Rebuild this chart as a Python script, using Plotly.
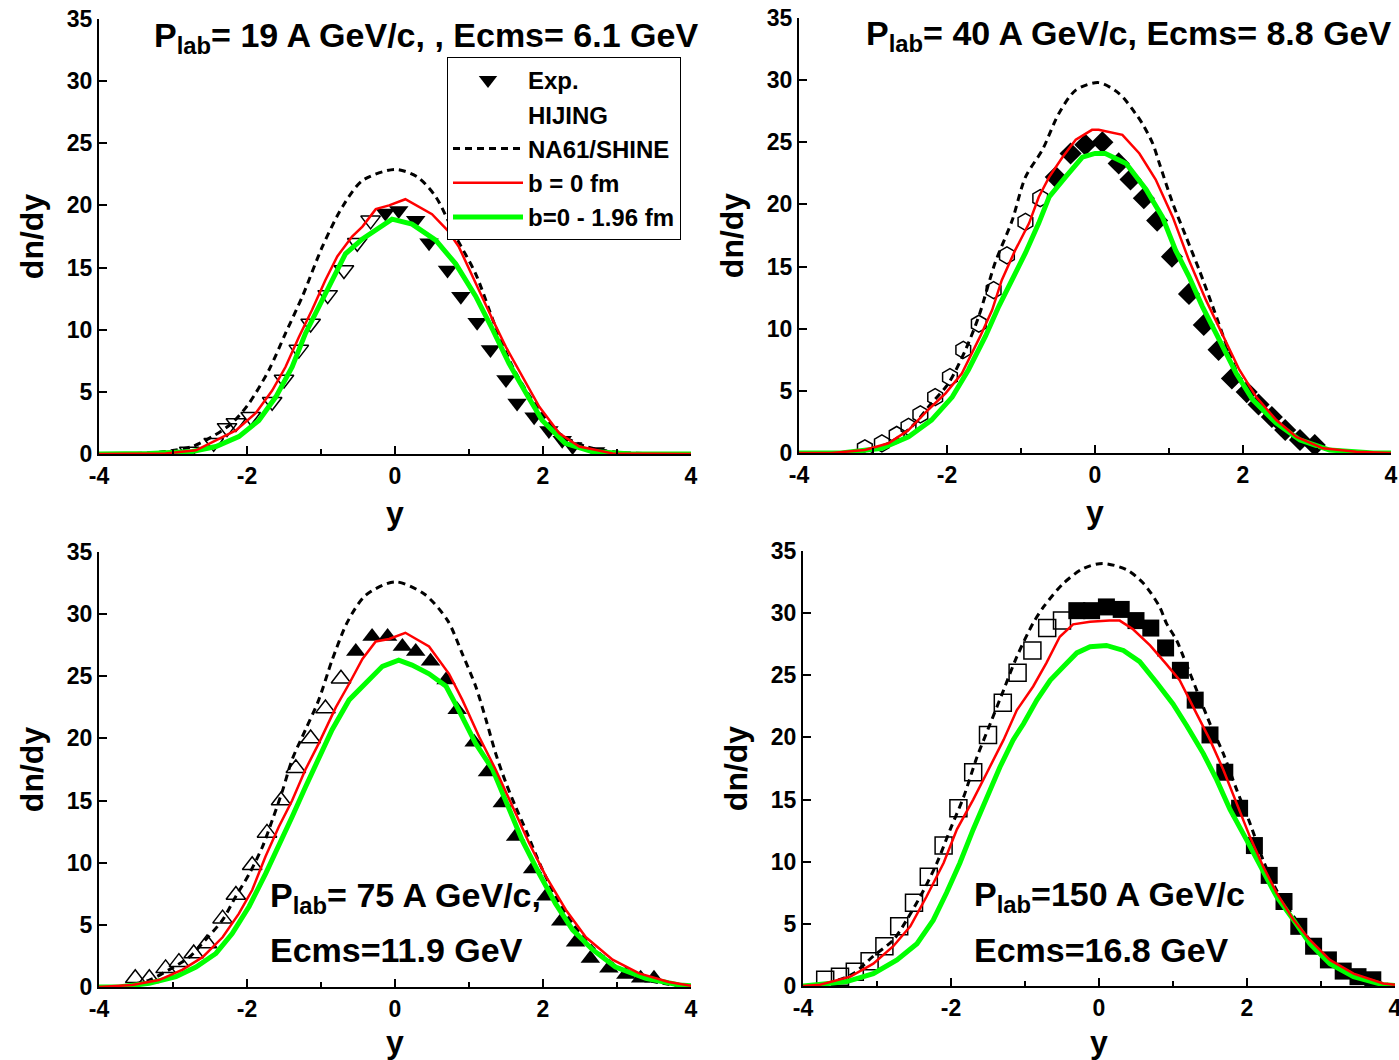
import plotly.graph_objects as go

W, H = 1399, 1060
FONT = "Liberation Sans, Arial, sans-serif"

# ---------------- Panel 1: 19 A GeV/c ----------------
p1_exp_x = [-0.13, 0.05, 0.28, 0.46, 0.71, 0.89, 1.11, 1.29, 1.50, 1.65, 1.88, 2.08, 2.26, 2.40, 2.71]
p1_exp_v = [19.4, 19.6, 18.8, 17.0, 14.8, 12.7, 10.6, 8.4, 6.0, 4.1, 3.0, 1.9, 1.1, 0.6, 0.2]
p1_ref_x = [-0.33, -0.51, -0.69, -0.91, -1.14, -1.30, -1.50, -1.66, -1.95, -2.15, -2.27, -2.45, -2.78]
p1_ref_v = [18.8, 17.0, 14.8, 12.8, 10.5, 8.4, 6.0, 4.2, 3.0, 2.5, 2.1, 0.9, 0.2]
p1_na61_x = [-4, -3.5, -3.1, -2.74, -2.47, -2.2, -1.97, -1.70, -1.48, -1.25, -0.98, -0.71, -0.44, 0, 0.3, 0.55, 0.82, 1.09, 1.36, 1.59, 1.86, 2.22, 2.58, 3.0, 3.5, 4]
p1_na61_v = [0, 0.05, 0.2, 0.6, 1.4, 2.5, 4.1, 6.8, 9.7, 12.7, 16.7, 19.9, 22.0, 22.9, 22.3, 20.7, 17.5, 14.5, 10.2, 7.0, 4.3, 1.66, 0.6, 0.15, 0.03, 0]
p1_b0_x = [-4, -3.1, -2.69, -2.42, -2.15, -1.88, -1.66, -1.48, -1.30, -1.12, -0.94, -0.78, -0.58, -0.44, -0.26, -0.08, 0.14, 0.50, 0.71, 0.86, 1.09, 1.32, 1.50, 1.72, 1.95, 2.22, 2.49, 2.94, 3.5, 4]
p1_b0_v = [0, 0.05, 0.3, 1.1, 1.9, 3.3, 5.1, 7.0, 9.4, 11.6, 14.0, 15.9, 17.5, 18.3, 19.7, 20.0, 20.5, 19.3, 18.0, 16.7, 13.7, 10.8, 8.6, 6.2, 3.8, 1.66, 0.6, 0.05, 0, 0]
p1_bc_x = [-4, -3.32, -2.74, -2.42, -2.11, -1.84, -1.61, -1.39, -1.21, -1.03, -0.85, -0.67, -0.44, -0.04, 0.23, 0.55, 0.82, 1.09, 1.32, 1.54, 1.77, 1.99, 2.30, 2.66, 3.2, 4]
p1_bc_v = [0, 0.05, 0.2, 0.6, 1.4, 2.7, 4.6, 7.0, 9.7, 11.9, 14.0, 16.1, 17.3, 18.9, 18.5, 17.2, 15.3, 12.7, 10.0, 7.3, 4.9, 2.7, 0.86, 0.2, 0, 0]

# ---------------- Panel 2: 40 A GeV/c ----------------
p2_exp_x = [-0.53, -0.33, -0.13, 0.10, 0.32, 0.48, 0.66, 0.84, 1.04, 1.27, 1.47, 1.67, 1.85, 2.05, 2.21, 2.39, 2.57, 2.77, 2.97]
p2_exp_v = [22.2, 24.1, 24.8, 25.0, 23.3, 22.0, 20.5, 18.7, 15.8, 12.8, 10.3, 8.3, 6.0, 4.9, 3.9, 2.9, 1.85, 1.05, 0.64]
p2_ref_x = [-0.74, -0.94, -1.19, -1.37, -1.57, -1.78, -1.96, -2.16, -2.36, -2.52, -2.68, -2.88, -3.11]
p2_ref_v = [20.5, 18.6, 15.9, 13.1, 10.4, 8.3, 6.1, 4.5, 3.1, 2.1, 1.45, 0.78, 0.38]
p2_na61_x = [-4, -3.16, -2.79, -2.48, -2.21, -1.98, -1.75, -1.57, -1.35, -1.12, -0.94, -0.71, -0.49, -0.26, 0.05, 0.33, 0.55, 0.64, 0.78, 0.87, 1.05, 1.23, 1.41, 1.59, 1.77, 1.95, 2.18, 2.45, 2.86, 3.35, 4]
p2_na61_v = [0, 0.1, 0.78, 2.1, 4.0, 5.6, 8.3, 11.0, 15.3, 18.7, 22.2, 24.4, 27.3, 29.2, 29.8, 28.9, 27.3, 26.5, 24.9, 23.3, 20.1, 17.4, 14.7, 11.8, 8.8, 6.1, 4.0, 2.1, 0.64, 0.1, 0]
p2_b0_x = [-4, -3.56, -3.11, -2.79, -2.52, -2.25, -2.02, -1.80, -1.55, -1.39, -1.26, -1.08, -0.89, -0.76, -0.62, -0.44, -0.26, -0.04, 0.05, 0.37, 0.60, 0.82, 1.05, 1.27, 1.50, 1.73, 1.95, 2.18, 2.45, 2.72, 3.08, 3.53, 4]
p2_b0_v = [0, 0, 0.24, 0.78, 1.85, 3.5, 4.8, 6.4, 9.4, 11.5, 13.9, 16.3, 18.5, 20.6, 22.2, 23.8, 25.2, 26.0, 26.0, 25.6, 24.1, 22.0, 19.0, 15.5, 12.3, 9.4, 6.7, 4.5, 2.65, 1.3, 0.38, 0.1, 0]
p2_bc_x = [-4, -3.43, -2.88, -2.52, -2.21, -1.93, -1.71, -1.48, -1.30, -1.12, -0.94, -0.76, -0.62, -0.40, -0.17, 0.0, 0.14, 0.42, 0.69, 0.91, 1.09, 1.27, 1.45, 1.68, 1.91, 2.13, 2.45, 2.77, 3.17, 3.76, 4]
p2_bc_v = [0, 0, 0.38, 1.3, 2.65, 4.5, 6.7, 9.4, 11.8, 13.9, 16.1, 18.5, 20.6, 22.2, 23.8, 24.1, 24.1, 23.3, 21.2, 19.0, 16.3, 14.2, 11.8, 9.1, 6.4, 4.3, 2.4, 1.05, 0.24, 0, 0]

# ---------------- Panel 3: 75 A GeV/c ----------------
p3_exp_x = [-0.53, -0.31, -0.10, 0.10, 0.28, 0.48, 0.69, 0.84, 1.07, 1.25, 1.45, 1.63, 1.86, 2.04, 2.24, 2.44, 2.64, 2.89, 3.12, 3.32, 3.50]
p3_exp_v = [27.0, 28.2, 28.2, 27.4, 27.0, 26.2, 24.7, 22.3, 19.7, 17.3, 14.8, 12.1, 9.5, 7.3, 5.3, 3.6, 2.3, 1.5, 1.0, 0.7, 0.7]
p3_ref_x = [-0.73, -0.94, -1.14, -1.34, -1.54, -1.73, -1.93, -2.15, -2.33, -2.54, -2.72, -2.92, -3.10, -3.32, -3.51]
p3_ref_v = [24.8, 22.4, 20.0, 17.6, 15.0, 12.4, 9.8, 7.4, 5.5, 3.5, 2.7, 2.0, 1.5, 0.7, 0.7]
p3_na61_x = [-4, -3.73, -3.32, -3.05, -2.78, -2.56, -2.33, -2.15, -1.97, -1.79, -1.66, -1.52, -1.39, -1.21, -1.03, -0.85, -0.64, -0.4, 0, 0.4, 0.71, 0.91, 1.09, 1.23, 1.36, 1.50, 1.63, 1.77, 1.95, 2.17, 2.40, 2.67, 2.94, 3.25, 3.61, 4]
p3_na61_v = [0, 0, 0.56, 1.4, 2.4, 3.8, 5.4, 7.3, 9.1, 11.3, 13.4, 15.8, 18.3, 20.7, 23.1, 26.3, 29.4, 31.5, 32.6, 31.6, 29.5, 26.8, 24.2, 21.5, 18.8, 16.4, 14.5, 12.6, 10.0, 7.3, 5.1, 3.2, 1.9, 0.83, 0.3, 0]
p3_b0_x = [-4, -3.55, -3.19, -2.87, -2.60, -2.33, -2.11, -1.93, -1.75, -1.57, -1.39, -1.21, -1.03, -0.80, -0.62, -0.44, -0.26, -0.08, 0.14, 0.46, 0.73, 0.91, 1.14, 1.36, 1.59, 1.81, 2.04, 2.31, 2.58, 2.94, 3.30, 3.70, 4]
p3_b0_v = [0, 0.16, 0.56, 1.4, 2.4, 4.0, 5.9, 7.8, 10.5, 12.9, 15.0, 17.5, 19.6, 22.5, 24.4, 26.4, 27.8, 28.0, 28.5, 27.4, 25.2, 23.1, 20.1, 17.5, 14.5, 11.6, 8.9, 6.2, 4.0, 2.2, 1.1, 0.4, 0.1]
p3_bc_x = [-4, -3.73, -3.32, -2.96, -2.69, -2.42, -2.20, -1.97, -1.75, -1.57, -1.39, -1.21, -1.03, -0.85, -0.62, -0.40, -0.17, 0.05, 0.23, 0.46, 0.69, 0.86, 1.09, 1.32, 1.54, 1.72, 1.95, 2.17, 2.40, 2.67, 2.98, 3.39, 3.84, 4]
p3_bc_v = [0, 0, 0.3, 0.83, 1.6, 2.7, 4.3, 6.5, 9.1, 11.3, 13.7, 16.1, 18.3, 20.7, 23.1, 24.4, 25.8, 26.3, 25.9, 25.2, 24.2, 22.3, 19.6, 17.5, 14.5, 11.8, 9.1, 6.7, 4.6, 3.0, 1.6, 0.7, 0.16, 0.1]

# ---------------- Panel 4: 150 A GeV/c ----------------
p4_exp_x = [-0.3, -0.1, 0.1, 0.3, 0.5, 0.7, 0.9, 1.1, 1.3, 1.5, 1.7, 1.9, 2.1, 2.3, 2.5, 2.7, 2.9, 3.1, 3.3, 3.5, 3.7]
p4_exp_v = [30.2, 30.2, 30.5, 30.3, 29.4, 28.8, 27.2, 25.4, 23.0, 20.2, 17.2, 14.3, 11.3, 8.9, 6.8, 4.8, 3.2, 2.1, 1.2, 0.75, 0.5]
p4_ref_x = [-0.5, -0.7, -0.9, -1.1, -1.3, -1.5, -1.7, -1.9, -2.1, -2.3, -2.5, -2.7, -2.9, -3.1, -3.3, -3.5, -3.7]
p4_ref_v = [29.4, 28.8, 27.0, 25.2, 22.8, 20.2, 17.2, 14.3, 11.3, 8.8, 6.7, 4.8, 3.2, 2.0, 1.15, 0.75, 0.5]
p4_na61_x = [-4, -3.68, -3.32, -3.05, -2.78, -2.60, -2.37, -2.19, -2.01, -1.83, -1.65, -1.47, -1.29, -1.11, -0.89, -0.75, -0.48, -0.21, 0.05, 0.37, 0.60, 0.82, 0.91, 1.05, 1.14, 1.32, 1.50, 1.68, 1.86, 2.04, 2.22, 2.40, 2.63, 2.85, 3.12, 3.48, 3.93, 4]
p4_na61_v = [0, 0.2, 1.0, 2.4, 3.7, 5.3, 7.7, 9.9, 12.6, 15.2, 18.4, 21.1, 23.8, 26.5, 29.2, 30.5, 32.4, 33.6, 34.0, 33.5, 32.4, 30.5, 29.2, 27.8, 26.5, 23.8, 21.1, 18.7, 15.8, 13.1, 10.1, 7.7, 5.6, 3.7, 2.1, 0.75, 0.1, 0.05]
p4_b0_x = [-4, -3.77, -3.36, -3.05, -2.78, -2.55, -2.33, -2.10, -1.92, -1.70, -1.52, -1.29, -1.11, -0.89, -0.71, -0.53, -0.35, -0.12, 0.14, 0.28, 0.46, 0.69, 0.91, 1.09, 1.32, 1.50, 1.68, 1.86, 2.04, 2.22, 2.40, 2.63, 2.85, 3.12, 3.44, 3.84, 4]
p4_b0_v = [0, 0.1, 0.75, 1.8, 3.2, 4.8, 7.2, 9.9, 12.6, 15.0, 17.1, 19.8, 22.2, 24.1, 26.0, 28.1, 29.1, 29.3, 29.4, 29.4, 28.7, 27.4, 25.9, 24.6, 21.9, 19.8, 17.4, 14.7, 12.0, 9.6, 7.5, 5.3, 3.7, 2.1, 1.0, 0.2, 0.1]
p4_bc_x = [-4, -3.86, -3.41, -3.05, -2.73, -2.46, -2.24, -2.06, -1.88, -1.70, -1.52, -1.34, -1.16, -1.02, -0.84, -0.66, -0.48, -0.30, -0.12, 0.10, 0.33, 0.55, 0.78, 1.00, 1.19, 1.41, 1.59, 1.77, 2.00, 2.18, 2.40, 2.63, 2.85, 3.12, 3.44, 3.84, 4]
p4_bc_v = [0, 0.08, 0.35, 1.0, 2.1, 3.4, 5.3, 7.5, 9.9, 12.6, 15.2, 17.6, 19.8, 21.1, 23.0, 24.6, 25.7, 26.8, 27.3, 27.4, 27.0, 26.1, 24.4, 22.7, 20.9, 18.7, 16.6, 14.2, 11.7, 9.6, 7.2, 5.3, 3.4, 1.8, 0.75, 0.1, 0.05]

x_ticks = [-4, -2, 0, 2, 4]
x_tick_labels = ["-4", "-2", "0", "2", "4"]
y_ticks = [0, 5, 10, 15, 20, 25, 30, 35]

panels = [
    dict(exp=(p1_exp_x, p1_exp_v), ref=(p1_ref_x, p1_ref_v), na=(p1_na61_x, p1_na61_v),
         b0=(p1_b0_x, p1_b0_v), bc=(p1_bc_x, p1_bc_v), sym="triangle-down", size=17),
    dict(exp=(p2_exp_x, p2_exp_v), ref=(p2_ref_x, p2_ref_v), na=(p2_na61_x, p2_na61_v),
         b0=(p2_b0_x, p2_b0_v), bc=(p2_bc_x, p2_bc_v), sym="diamond", size=17, osym="hexagon", osize=17),
    dict(exp=(p3_exp_x, p3_exp_v), ref=(p3_ref_x, p3_ref_v), na=(p3_na61_x, p3_na61_v),
         b0=(p3_b0_x, p3_b0_v), bc=(p3_bc_x, p3_bc_v), sym="triangle-up", size=17),
    dict(exp=(p4_exp_x, p4_exp_v), ref=(p4_ref_x, p4_ref_v), na=(p4_na61_x, p4_na61_v),
         b0=(p4_b0_x, p4_b0_v), bc=(p4_bc_x, p4_bc_v), sym="square", size=17),
]

# pixel boxes of the four plot areas: (left, right, top, bottom)
boxes = [(99, 691, 19, 454), (799, 1391, 18, 453), (99, 691, 552, 987), (803, 1395, 551, 986)]

fig = go.Figure()
for i, p in enumerate(panels):
    xa = "x" if i == 0 else f"x{i+1}"
    ya = "y" if i == 0 else f"y{i+1}"
    first = (i == 0)
    osym = p.get("osym", p["sym"]) + "-open"
    fig.add_trace(go.Scatter(x=p["ref"][0], y=p["ref"][1], mode="markers", xaxis=xa, yaxis=ya,
                             marker=dict(symbol=osym, size=p.get("osize", p["size"]), color="black",
                                         line=dict(width=1.5, color="black")),
                             showlegend=False))
    fig.add_trace(go.Scatter(x=p["exp"][0], y=p["exp"][1], mode="markers", xaxis=xa, yaxis=ya,
                             marker=dict(symbol=p["sym"], size=p["size"], color="black", line=dict(width=0)),
                             name="Exp.", showlegend=first, legendrank=1))
    if first:
        fig.add_trace(go.Scatter(x=[None], y=[None], mode="lines", xaxis=xa, yaxis=ya,
                                 line=dict(width=0, color="rgba(0,0,0,0)"), name="HIJING",
                                 showlegend=True, legendrank=2))
    fig.add_trace(go.Scatter(x=p["na"][0], y=p["na"][1], mode="lines", xaxis=xa, yaxis=ya,
                             line=dict(color="black", width=3, dash="7px,5px", shape="spline", smoothing=0.8),
                             name="NA61/SHINE", showlegend=first, legendrank=3))
    fig.add_trace(go.Scatter(x=p["bc"][0], y=p["bc"][1], mode="lines", xaxis=xa, yaxis=ya,
                             line=dict(color="#00FF00", width=5),
                             name="b=0 - 1.96 fm", showlegend=first, legendrank=5))
    fig.add_trace(go.Scatter(x=p["b0"][0], y=p["b0"][1], mode="lines", xaxis=xa, yaxis=ya,
                             line=dict(color="#FF0000", width=2.5),
                             name="b = 0 fm", showlegend=first, legendrank=4))

tickfont = dict(family=FONT, size=23, color="black", weight="bold")
titlefont = dict(family=FONT, size=32, color="black", weight="bold")
layout = {}
for i, (l, r, t, b) in enumerate(boxes):
    xk = "xaxis" if i == 0 else f"xaxis{i+1}"
    yk = "yaxis" if i == 0 else f"yaxis{i+1}"
    ya = "y" if i == 0 else f"y{i+1}"
    xa = "x" if i == 0 else f"x{i+1}"
    layout[xk] = dict(domain=[l / W, r / W], anchor=ya, range=[-4, 4], tickvals=x_ticks, ticktext=x_tick_labels,
                      ticks="inside", ticklen=8, tickwidth=2, tickcolor="black", automargin=False,
                      ticklabeloverflow="allow",
                      showline=True, linewidth=2, linecolor="black", showgrid=False, zeroline=False,
                      minor=dict(dtick=1, tick0=0, ticks="inside", ticklen=5, tickwidth=2, tickcolor="black"),
                      tickfont=tickfont, title=dict(text="y", font=titlefont, standoff=14))
    layout[yk] = dict(domain=[1 - b / H, 1 - t / H], anchor=xa, range=[0, 35], tickvals=y_ticks,
                      ticks="inside", ticklen=8, tickwidth=2, tickcolor="black", automargin=False,
                      showline=True, linewidth=2, linecolor="black", showgrid=False, zeroline=False,
                      tickfont=tickfont, title=dict(text="dn/dy", font=titlefont, standoff=14))

fig.update_layout(**layout)

ann_font = dict(family=FONT, size=34, color="black", weight="bold")
texts = [
    ("P<sub>lab</sub>= 19 A GeV/c, , Ecms= 6.1 GeV", 152, 37, "left"),
    ("P<sub>lab</sub>= 40 A GeV/c, Ecms= 8.8 GeV", 1393, 35, "right"),
    ("P<sub>lab</sub>= 75 A GeV/c,", 268, 897, "left"),
    ("Ecms=11.9 GeV", 268, 950, "left"),
    ("P<sub>lab</sub>=150 A GeV/c", 972, 896, "left"),
    ("Ecms=16.8 GeV", 972, 950, "left"),
]
annotations = [dict(text=t, x=px / W, y=1 - py / H, xref="paper", yref="paper", xanchor=anc,
                    yanchor="middle", showarrow=False, font=ann_font) for t, px, py, anc in texts]

fig.update_layout(
    width=W, height=H, margin=dict(l=0, r=0, t=0, b=0),
    paper_bgcolor="white", plot_bgcolor="white",
    annotations=annotations,
    legend=dict(x=447 / W, y=1 - 57 / H, xanchor="left", yanchor="top", bgcolor="white",
                bordercolor="black", borderwidth=1, font=dict(family=FONT, size=24, color="black", weight="bold"),
                itemwidth=70, traceorder="normal", tracegroupgap=0),
    showlegend=True,
)

fig.write_html("out.html")
